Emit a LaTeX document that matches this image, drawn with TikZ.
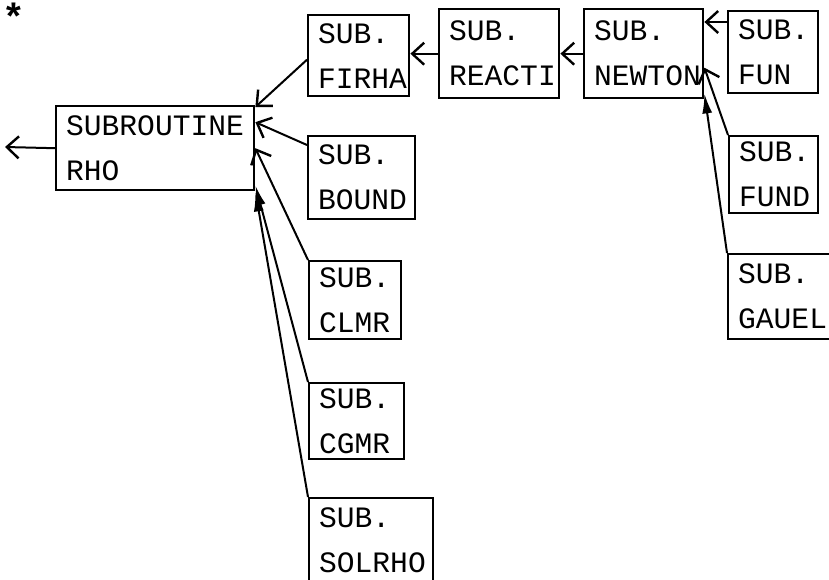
\documentclass[tikz,border=0pt]{standalone}
\usepackage{fontspec}
\setmonofont{Liberation Mono}
\usetikzlibrary{arrows.meta}
\tikzset{
  subbox/.style={
    draw, line width=1.2pt, anchor=north west,
    font=\ttfamily\fontsize{14.8}{22.5}\selectfont,
    align=left, inner xsep=5pt, inner ysep=0pt
  },
  callarrow/.style={
    -{Straight Barb[length=6pt, width=11pt, line width=1.2pt]}, line width=1pt
  },
  callarrowfill/.style={
    -{Latex[length=10pt, width=5pt]}, line width=1pt
  },
}

\begin{document}
\begin{tikzpicture}[x=0.5pt, y=-0.5pt]
  \clip (0,0) rectangle (829,579);

  % Main routine
  \node[subbox, text width=89pt, minimum height=42pt] (RHO) at (55,105) {SUBROUTINE\\RHO};
  \node[anchor=base east, font=\ttfamily\bfseries\fontsize{19}{22}\selectfont, inner sep=0pt] (stars) at (26,30) {**};
  \coordinate (out) at (5,147);

  % Called subroutines
  \node[subbox, text width=40.5pt, minimum height=40.5pt] (FIRHA)  at (307,14)  {SUB.\\FIRHA};
  \node[subbox, text width=43.5pt, minimum height=41.5pt] (BOUND)  at (307,135) {SUB.\\BOUND};
  \node[subbox, text width=36pt,   minimum height=39pt]   (CLMR)   at (308,260) {SUB.\\CLMR};
  \node[subbox, text width=37.5pt, minimum height=38pt]   (CGMR)   at (308,382) {SUB.\\CGMR};
  \node[subbox, text width=52pt,   minimum height=42.5pt] (SOLRHO) at (308,497) {SUB.\\SOLRHO};
  \node[subbox, text width=50pt,   minimum height=44.5pt] (REACTI) at (438,8)   {SUB.\\REACTI};
  \node[subbox, text width=49.5pt, minimum height=44.5pt] (NEWTON) at (583,8)   {SUB.\\NEWTON};
  \node[subbox, text width=35pt,   minimum height=41pt]   (FUN)    at (727,10)  {SUB.\\FUN};
  \node[subbox, text width=34.5pt, minimum height=38.5pt] (FUND)   at (728,135) {SUB.\\FUND};
  \node[subbox, text width=46pt,   minimum height=42.5pt] (GAUEL)  at (727,253) {SUB.\\GAUEL};

  % Calls into RHO
  \draw[callarrow] (RHO.west) -- (out);
  \draw[callarrow] ([yshift=-2pt]FIRHA.west) -- ([yshift=-1pt]RHO.north east);
  \draw[callarrow] ([yshift=-5pt]BOUND.north west) -- ([yshift=13pt]RHO.east);
  \draw[callarrow] (CLMR.north west) -- (RHO.east);
  \draw[callarrowfill] (CGMR.north west) -- ([yshift=3pt]RHO.south east);
  \draw[callarrowfill] (SOLRHO.north west) -- (RHO.south east);

  % Chain along the top
  \draw[callarrow] (REACTI.west) -- (FIRHA.east |- REACTI.west);
  \draw[callarrow] (NEWTON.west) -- (REACTI.east);
  \draw[callarrow] ([yshift=-6pt]FUN.north west) -- ([yshift=-7pt]NEWTON.north east);
  \draw[callarrow] (FUND.north west) -- ([yshift=-7pt]NEWTON.east);
  \draw[callarrowfill] (GAUEL.north west) -- ([yshift=3pt]NEWTON.south east);
\end{tikzpicture}
\end{document}
